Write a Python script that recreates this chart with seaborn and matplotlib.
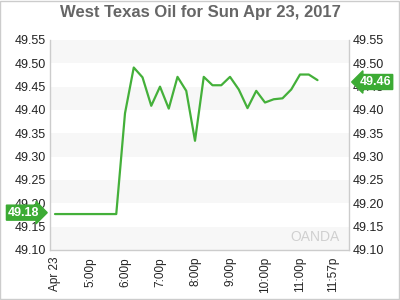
import matplotlib
matplotlib.use("Agg")
import matplotlib.pyplot as plt
import seaborn as sns
import pandas as pd
from matplotlib.patches import Rectangle

# ---- data ----
hours = [16.0, 16.25, 16.5, 16.75, 17.0, 17.25, 17.5, 17.75,
         18.0, 18.25, 18.5, 18.75, 19.0, 19.25, 19.5, 19.75,
         20.0, 20.25, 20.5, 20.75, 21.0, 21.25, 21.5, 21.75,
         22.0, 22.25, 22.5, 22.75, 23.0, 23.25, 23.5]
prices = [49.177, 49.177, 49.177, 49.177, 49.177, 49.177, 49.177, 49.177,
          49.393, 49.491, 49.470, 49.409, 49.450, 49.403, 49.471, 49.441,
          49.334, 49.471, 49.453, 49.453, 49.471, 49.444, 49.404, 49.441,
          49.416, 49.423, 49.425, 49.444, 49.476, 49.476, 49.464]
xtick_pos = [16.0, 17.0, 18.0, 19.0, 20.0, 21.0, 22.0, 23.0, 23.95]
xtick_labels = ["Apr 23", "5:00p", "6:00p", "7:00p", "8:00p", "9:00p",
                "10:00p", "11:00p", "11:57p"]
ytick_vals = [49.10, 49.15, 49.20, 49.25, 49.30, 49.35, 49.40, 49.45, 49.50, 49.55]
open_label = 49.18
last_label = 49.46
title = "West Texas Oil for Sun Apr 23, 2017"

df = pd.DataFrame({"hour": hours, "price": prices})

sns.set_theme(style="white")
plt.rcParams["font.family"] = ["Liberation Sans", "DejaVu Sans"]

green = "#3cab34"
fig = plt.figure(figsize=(4, 3), dpi=100)
ax = fig.add_axes([0.125, 0.1667, 0.7475, 0.70])

# alternating bands
for i in range(0, len(ytick_vals) - 1, 2):
    ax.axhspan(ytick_vals[i], ytick_vals[i + 1], color="#f7f7f7", zorder=0, lw=0)

sns.lineplot(data=df, x="hour", y="price", ax=ax, color="#44b03a", lw=1.6, zorder=3)

ax.set_xlim(15.857, 24.4)
ax.set_ylim(49.10, 49.55)
ax.set_xticks(xtick_pos)
ax.set_xticklabels(xtick_labels, rotation=90, fontsize=8.5, color="#222")
ax.set_yticks(ytick_vals)
ax.set_yticklabels([f"{v:.2f}" for v in ytick_vals], fontsize=9, color="#222")
ax.tick_params(axis="y", which="both", left=True, right=True, labelleft=True,
               labelright=True, length=0, pad=3)
ax.tick_params(axis="x", length=3, color="#cccccc", pad=2)
ax.set_xlabel("")
ax.set_ylabel("")
for s in ["left", "right", "bottom"]:
    ax.spines[s].set_color("#cccccc")
    ax.spines[s].set_linewidth(1)
ax.spines["top"].set_visible(False)

# price tags
ax.annotate(f"{open_label:.2f}", xy=(0.0, open_label), xycoords=("axes fraction", "data"),
            xytext=(-19, 0), textcoords="offset points", ha="center", va="center",
            fontsize=9, fontweight="bold", color="white",
            bbox=dict(boxstyle="rarrow,pad=0.12", fc=green, ec=green), zorder=5,
            annotation_clip=False)
ax.annotate(f"{last_label:.2f}", xy=(1.0, last_label), xycoords=("axes fraction", "data"),
            xytext=(19, 0), textcoords="offset points", ha="center", va="center",
            fontsize=9, fontweight="bold", color="white",
            bbox=dict(boxstyle="larrow,pad=0.12", fc=green, ec=green), zorder=5,
            annotation_clip=False)

# watermark
ax.text(0.97, 0.06, "OANDA", transform=ax.transAxes, ha="right", va="center",
        fontsize=10, color="#d0d0d0", zorder=1)

fig.suptitle(title, x=0.5, y=0.985, fontsize=12, fontweight="bold", color="#666666")

# figure border
fig.patches.append(Rectangle((0.001, 0.002), 0.997, 0.995, transform=fig.transFigure,
                             fill=False, ec="#cccccc", lw=1))

fig.savefig("out.png", dpi=100)
